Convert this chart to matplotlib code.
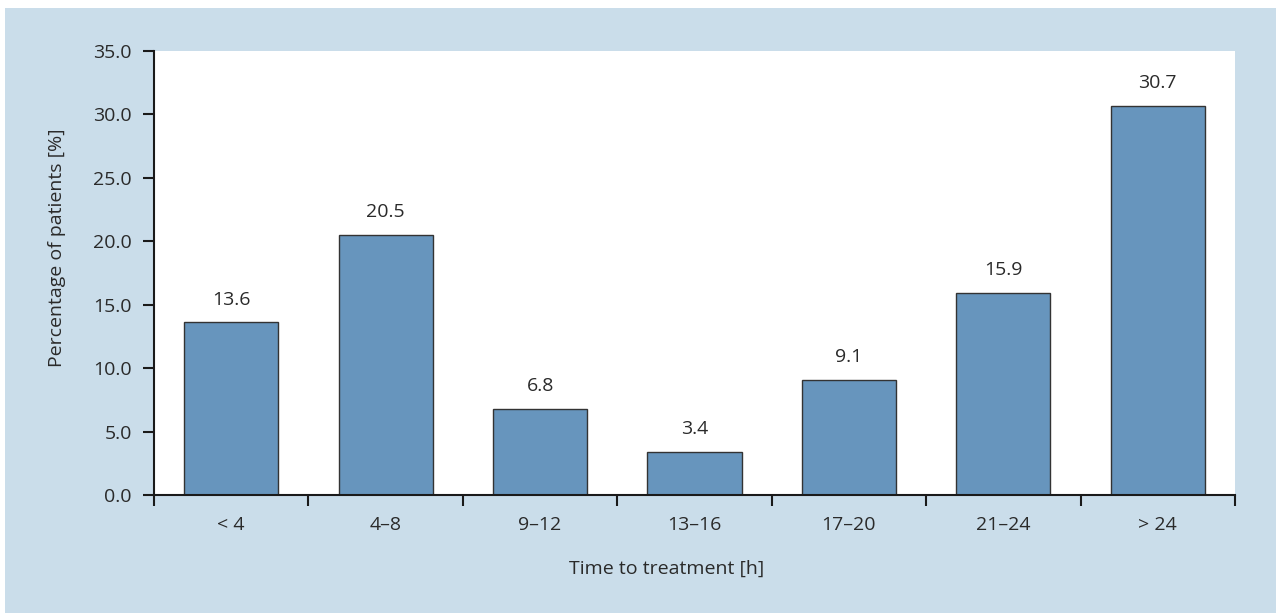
import numpy as np
import matplotlib.pyplot as plt
from matplotlib.patches import Rectangle

# datos
categorias = ['< 4', '4–8', '9–12', '13–16', '17–20', '21–24', '> 24']
porcentajes = [13.6, 20.5, 6.8, 3.4, 9.1, 15.9, 30.7]
ticks_y = [0, 5, 10, 15, 20, 25, 30, 35]

fondo = '#cadDea'
color_barra = '#6795bd'
color_texto = '#2a2a2a'
tam = 14

plt.rcParams['font.family'] = ['Open Sans', 'DejaVu Sans']

fig = plt.figure(figsize=(12.76, 6.13), dpi=100)
fig.patch.set_facecolor('white')
# panel de fondo (debajo de los ejes)
fig.patches.append(Rectangle((5 / 1276, 0), 1, 1 - 8 / 613, transform=fig.transFigure,
                             facecolor=fondo, edgecolor='none', zorder=-10))

ax = fig.add_axes([154 / 1276, 1 - 495 / 613, (1235 - 154) / 1276, (495 - 51) / 613])
ax.set_facecolor('white')

x = np.arange(len(categorias))
ax.bar(x, porcentajes, width=0.61, color=color_barra, edgecolor='#333333', linewidth=1.0, zorder=2)

for xi, v in zip(x, porcentajes):
    ax.annotate(f'{v:.1f}', (xi, v), xytext=(0, 10), textcoords='offset points',
                ha='center', va='bottom', fontsize=tam, color=color_texto)

ax.set_xlim(-0.5, len(categorias) - 0.5)
ax.set_ylim(0, 35)
ax.set_yticks(ticks_y)
ax.set_yticklabels([f'{t:.1f}' for t in ticks_y])

ax.set_xticks(x)
ax.set_xticklabels(categorias)
ax.set_xticks(np.arange(-0.5, len(categorias)), minor=True)
ax.tick_params(axis='x', which='major', length=0, pad=15, labelsize=tam, labelcolor=color_texto)
ax.tick_params(axis='x', which='minor', length=8, width=1.5, direction='out', color='#1a1a1a')
ax.tick_params(axis='y', length=8, width=1.5, direction='out', color='#1a1a1a',
               labelsize=tam, labelcolor=color_texto, pad=8)

for lado in ['top', 'right']:
    ax.spines[lado].set_visible(False)
for lado in ['left', 'bottom']:
    ax.spines[lado].set_linewidth(1.5)
    ax.spines[lado].set_color('#1a1a1a')

ax.set_xlabel('Time to treatment [h]', fontsize=tam, color=color_texto)
ax.set_ylabel('Percentage of patients [%]', fontsize=tam, color=color_texto)
# títulos de ejes algo descentrados
ax.xaxis.set_label_coords(0.4746, -0.147)
ax.yaxis.set_label_coords(-0.081, 0.556)

fig.savefig('out.png', dpi=100, facecolor=fig.get_facecolor())
